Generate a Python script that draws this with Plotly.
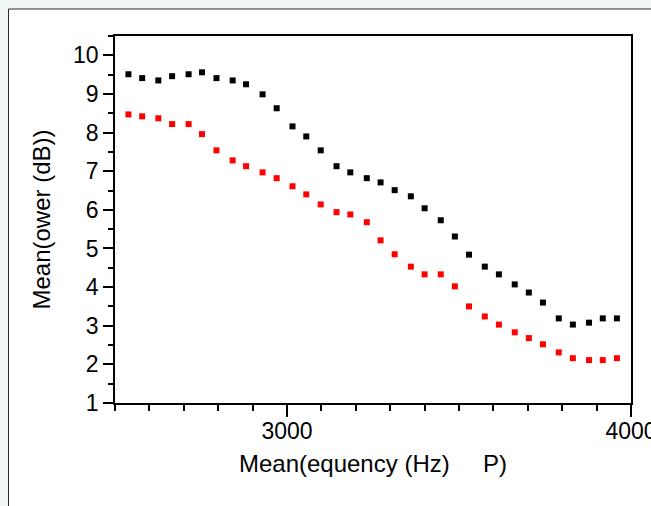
import plotly.graph_objects as go

# Frequency (Hz) of each averaged bin
freq_hz = [2539, 2579, 2626, 2666, 2714, 2753, 2795, 2842, 2881, 2929,
           2970, 3016, 3056, 3098, 3144, 3184, 3232, 3272, 3313, 3360,
           3400, 3447, 3488, 3529, 3575, 3616, 3662, 3703, 3744, 3790,
           3831, 3878, 3918, 3959]

# Black series: mean power (dB)
power_black = [9.51, 9.41, 9.35, 9.46, 9.51, 9.56, 9.41, 9.35, 9.25, 8.99,
               8.63, 8.16, 7.90, 7.54, 7.13, 6.97, 6.82, 6.71, 6.51, 6.35,
               6.04, 5.73, 5.31, 4.84, 4.53, 4.33, 4.07, 3.86, 3.60, 3.19,
               3.03, 3.08, 3.19, 3.19]

# Red series: mean power (dB)
power_red = [8.47, 8.42, 8.37, 8.22, 8.22, 7.96, 7.54, 7.28, 7.13, 6.97,
             6.82, 6.61, 6.40, 6.14, 5.94, 5.88, 5.68, 5.21, 4.85, 4.53,
             4.33, 4.33, 4.02, 3.50, 3.24, 3.03, 2.83, 2.68, 2.52, 2.31,
             2.16, 2.11, 2.11, 2.16]

x_tick_vals = [3000, 4000]
x_tick_text = ["3000", "4000"]
y_tick_vals = [1, 2, 3, 4, 5, 6, 7, 8, 9, 10]
y_tick_text = ["1", "2", "3", "4", "5", "6", "7", "8", "9", "10"]

FONT = "Liberation Sans, Arial, Helvetica, sans-serif"

W, H = 651, 506
ML, MR, MT, MB = 115, 20, 36, 103
PW, PH = W - ML - MR, H - MT - MB

fig = go.Figure()
fig.add_trace(go.Scatter(x=freq_hz, y=power_black, mode="markers",
                         marker=dict(symbol="square", size=6, color="#000000", line=dict(width=0)),
                         showlegend=False))
fig.add_trace(go.Scatter(x=freq_hz, y=power_red, mode="markers",
                         marker=dict(symbol="square", size=6, color="#ff0000", line=dict(width=0)),
                         showlegend=False))

# outer white frame; its top and left edges are visible
fig.add_shape(type="rect", xref="paper", yref="paper",
              x0=(8.5 - ML) / PW, x1=1.3, y0=-0.6, y1=(H - MB - 9.0) / PH,
              line=dict(color="#2a2a2a", width=1), fillcolor="white", layer="below")

fig.update_layout(
    width=W, height=H,
    margin=dict(l=ML, r=MR, t=MT, b=MB),
    paper_bgcolor="#f0f6f6",
    plot_bgcolor="white",
    font=dict(family=FONT, color="black", size=23),
    xaxis=dict(range=[2500, 4000], tickmode="array", tickvals=x_tick_vals, ticktext=x_tick_text,
               automargin=False, ticklabeloverflow="allow", ticklabelstandoff=-5,
               showgrid=False, zeroline=False, showline=True, linecolor="black", linewidth=1.5,
               mirror=True, ticks="outside", ticklen=12, tickwidth=1.5, tickcolor="black",
               minor=dict(dtick=100, tick0=0, ticks="outside", ticklen=6, tickwidth=1.5,
                          tickcolor="black", showgrid=False),
               tickfont=dict(size=23),
               title=dict(text="Mean(equency (Hz)\u00a0\u00a0\u00a0\u00a0 P)",
                          font=dict(size=24), standoff=12)),
    yaxis=dict(range=[1, 10.5], tickmode="array", tickvals=y_tick_vals, ticktext=y_tick_text,
               automargin=False, ticklabeloverflow="allow",
               showgrid=False, zeroline=False, showline=True, linecolor="black", linewidth=1.5,
               mirror=True, ticks="outside", ticklen=10, tickwidth=1.5, tickcolor="black",
               minor=dict(dtick=0.5, tick0=0, ticks="outside", ticklen=5, tickwidth=1.5,
                          tickcolor="black", showgrid=False),
               tickfont=dict(size=23),
               title=dict(text="Mean(ower (dB))", font=dict(size=24), standoff=16)),
)

fig.write_html(
    "out.html",
    config={"displayModeBar": False},
    post_script=(
        "document.body.style.margin='0';"
        "document.body.style.backgroundColor='#f0f6f6';"
        "document.documentElement.style.overflow='hidden';"
        "document.body.style.overflow='hidden';"
    ),
)
